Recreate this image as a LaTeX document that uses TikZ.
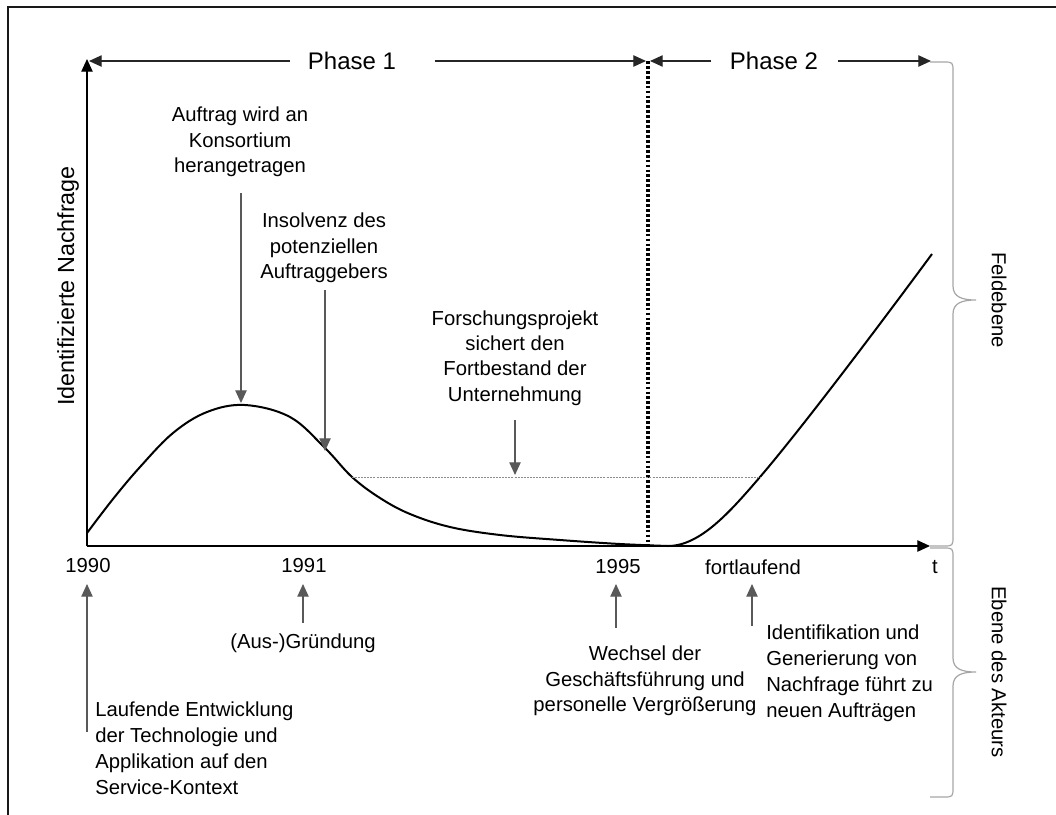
\documentclass[tikz,border=0pt]{standalone}
\usepackage{fontspec}
\setmainfont{Liberation Sans}
\usetikzlibrary{arrows.meta}
\begin{document}
\begin{tikzpicture}[x=0.75pt,y=-0.75pt,
  txt/.style={font=\fontsize{15.2}{19}\selectfont, align=center, inner sep=0pt},
  txtl/.style={font=\fontsize{15.2}{19.5}\selectfont, align=left, inner sep=0pt},
  phase/.style={font=\fontsize{18}{22}\selectfont, inner sep=0pt},
  tip/.style={-{Triangle[length=9.5pt,width=8.5pt]}},
  axis/.style={line width=0.95pt, black, tip},
  phasearrow/.style={line width=0.9pt, black!85, tip},
  annot/.style={line width=0.9pt, black!65, tip},
  curve/.style={line width=1.5pt, black},
  guide/.style={line width=0.45pt, black!45, dash pattern=on 1.5pt off 0.8pt},
  divider/.style={line width=2.3pt, black, dash pattern=on 2.1pt off 1.6pt},
  bracket/.style={line width=0.9pt, black!35},
  frame/.style={line width=1.6pt, black!90}]

\clip (0,0) rectangle (1056,814);
\fill[white] (0,0) rectangle (1056,814);
\draw[frame] (8,7) rectangle (1080,840);

% axes
\coordinate (origin) at (87,546);
\coordinate (ytop) at (87,59);
\coordinate (xend) at (930,546);
\draw[axis] (origin) -- (ytop);
\draw[axis] (origin) -- (xend);

% phase markers along the top
\coordinate (corner) at (89,61);
\coordinate (split) at (648,61);
\coordinate (splitL) at (646,61);
\coordinate (splitR) at (650,61);
\coordinate (pend) at (931,61);
\coordinate (p1a) at (290,61);
\coordinate (p1b) at (435,61);
\coordinate (p2a) at (711,61);
\coordinate (p2b) at (838,61);
\node[phase] (ph1) at (352,61) {Phase 1};
\node[phase] (ph2) at (774,61) {Phase 2};
\draw[phasearrow] (p1a) -- (corner);
\draw[phasearrow] (p1b) -- (splitL);
\draw[phasearrow] (p2a) -- (splitR);
\draw[phasearrow] (p2b) -- (pend);
\coordinate (splitB) at (648,546);
\draw[divider] (split) -- (splitB);

% demand curve: early peak, long decline, then renewed growth
\draw[curve] plot[smooth, tension=0.6] coordinates {
  (87,533) (113,499) (140,467) (173,433) (207,412) (245,405)
  (290,417) (325,448) (352,477) (380,498) (410,514) (450,527)
  (500,535) (560,540) (620,544) (668,546)}
  .. controls (700,546) and (730,512) .. (760,477)
  .. controls (790,442) and (850,365) .. (932,254);

% reference level
\coordinate (lvlA) at (352,477);
\coordinate (lvlB) at (760,477);
\draw[guide] (lvlA) -- (lvlB);

% annotations above the axis
\node[txt] (auftrag) at (240,142) {Auftrag wird an\\Konsortium\\herangetragen};
\node[txt] (insolvenz) at (324,248) {Insolvenz des\\potenziellen\\Auftraggebers};
\node[txt] (forschung) at (515,358) {Forschungsprojekt\\sichert den\\Fortbestand der\\Unternehmung};
\coordinate (a1) at (241,193);
\coordinate (peak) at (241,403);
\coordinate (a2) at (325,290);
\coordinate (slope) at (325,451);
\coordinate (a3) at (515,420);
\coordinate (lvlM) at (515,475);
\draw[annot] (a1) -- (peak);
\draw[annot] (a2) -- (slope);
\draw[annot] (a3) -- (lvlM);
\node[rotate=90, font=\fontsize{17.5}{21}\selectfont, inner sep=0pt] (ylab) at (68,286) {Identifizierte Nachfrage};

% time labels
\node[txt] (y1990) at (88,566) {1990};
\node[txt] (y1991) at (304,566) {1991};
\node[txt] (y1995) at (618,567) {1995};
\node[txt] (yfort) at (753,567) {fortlaufend};
\node[txt] (tlab) at (935,567) {t};

% annotations below the axis
\coordinate (b1) at (87,732);
\coordinate (b1t) at (87,584);
\coordinate (b2) at (303,623);
\coordinate (b2t) at (303,584);
\coordinate (b3) at (616,628);
\coordinate (b3t) at (616,584);
\coordinate (b4) at (752,626);
\coordinate (b4t) at (752,584);
\draw[annot] (b1) -- (b1t);
\draw[annot] (b2) -- (b2t);
\draw[annot] (b3) -- (b3t);
\draw[annot] (b4) -- (b4t);
\node[txt] (gruendung) at (303,643) {(Aus-)Gründung};
\node[txtl, anchor=west] (laufend) at (95,748) {Laufende Entwicklung\\der Technologie und\\Applikation auf den\\Service-Kontext};
\node[txt] (wechsel) at (645,681) {Wechsel der\\Geschäftsführung und\\personelle Vergrößerung};
\node[txtl, anchor=west] (ident) at (766,673) {Identifikation und\\Generierung von\\Nachfrage führt zu\\neuen Aufträgen};

% level braces
\draw[bracket] (930,62) -- (943,62) .. controls (953,62) .. (953,72) -- (953,286)
  .. controls (953,297) and (962,300) .. (976,300)
  .. controls (962,300) and (953,303) .. (953,314) -- (953,536)
  .. controls (953,546) .. (943,546) -- (930,546);
\draw[bracket] (930,548) -- (943,548) .. controls (953,548) .. (953,558) -- (953,658)
  .. controls (953,669) and (962,672) .. (976,672)
  .. controls (962,672) and (953,675) .. (953,686) -- (953,787)
  .. controls (953,797) .. (943,797) -- (930,797);
\node[txt, rotate=-90] (feld) at (999,300) {Feldebene};
\node[txt, rotate=-90] (akteur) at (999,672) {Ebene des Akteurs};
\end{tikzpicture}
\end{document}
